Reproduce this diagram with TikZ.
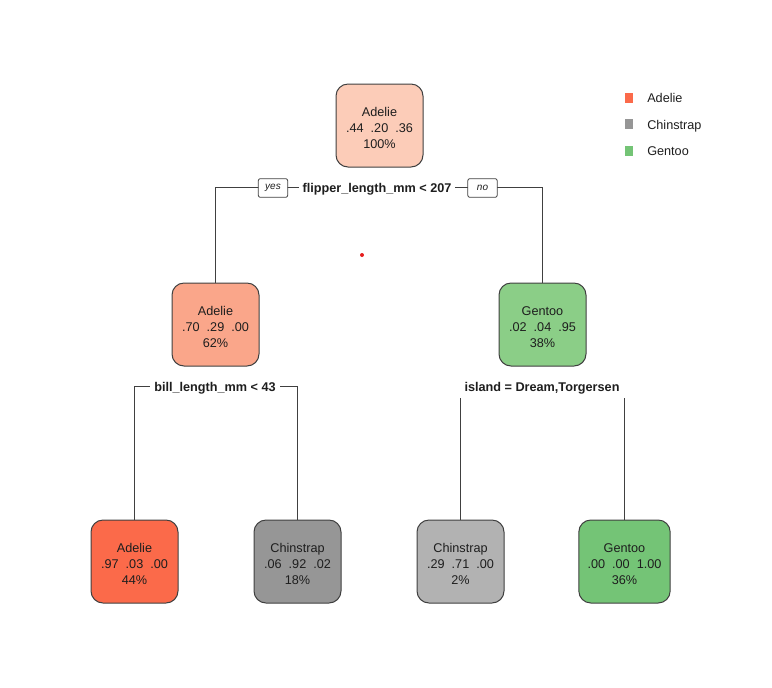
\documentclass[tikz,border=0pt]{standalone}
\usepackage{fontspec}
\setmainfont{Liberation Sans}
\definecolor{edgegray}{RGB}{64,64,64}
\definecolor{txt}{RGB}{30,30,30}
\definecolor{rootfill}{RGB}{252,204,184}
\definecolor{adeliemid}{RGB}{250,166,138}
\definecolor{adeliefull}{RGB}{251,106,74}
\definecolor{chinfull}{RGB}{150,150,150}
\definecolor{chinlight}{RGB}{178,178,178}
\definecolor{gentoomid}{RGB}{139,206,135}
\definecolor{gentoofull}{RGB}{116,196,118}
\definecolor{dotred}{RGB}{230,30,30}
% first line strut pushes the three-line block slightly down in its box
\newcommand{\topstrut}{\rule{0pt}{10pt}}
\begin{document}
\begin{tikzpicture}[x=0.75pt,y=-0.75pt,
  leaf/.style={draw=edgegray, line width=0.75pt, rounded corners=9pt,
    minimum width=65.25pt, minimum height=62.25pt, align=center,
    font=\fontsize{9.5}{12}\selectfont, text=txt, inner sep=0pt},
  split/.style={fill=white, font=\bfseries\fontsize{9.5}{12}\selectfont,
    text=txt, inner sep=3pt},
  tag/.style={draw=edgegray, fill=white, line width=0.6pt, rounded corners=1.5pt,
    font=\itshape\fontsize{7.5}{9}\selectfont, text=txt,
    minimum width=22pt, minimum height=14pt, inner sep=1pt},
  wire/.style={draw=edgegray, line width=0.75pt},
  key/.style={minimum width=6.5pt, minimum height=7.5pt, inner sep=0pt},
  keylabel/.style={anchor=base west, font=\fontsize{9.5}{12}\selectfont, text=txt, inner sep=0pt}]
\useasboundingbox (0,0) rectangle (772,687);

% tree nodes
\node[leaf, fill=rootfill]   (n1) at (379.5,125.5) {\topstrut Adelie\\.44~~.20~~.36\\100\%};
\node[leaf, fill=adeliemid]  (n2) at (215.5,324.5) {\topstrut Adelie\\.70~~.29~~.00\\62\%};
\node[leaf, fill=gentoomid]  (n3) at (542.5,324.5) {\topstrut Gentoo\\.02~~.04~~.95\\38\%};
\node[leaf, fill=adeliefull] (n4) at (134.5,561.5) {\topstrut Adelie\\.97~~.03~~.00\\44\%};
\node[leaf, fill=chinfull]   (n5) at (297.5,561.5) {\topstrut Chinstrap\\.06~~.92~~.02\\18\%};
\node[leaf, fill=chinlight]  (n6) at (460.5,561.5) {\topstrut Chinstrap\\.29~~.71~~.00\\2\%};
\node[leaf, fill=gentoofull, minimum width=68.5pt] (n7) at (624.5,561.5) {\topstrut Gentoo\\.00~~.00~~1.00\\36\%};

% first split: flipper length
\coordinate (s1a) at (215.5,187.5);
\coordinate (s1b) at (542.5,187.5);
\draw[wire] (n2.north) -- (s1a) -- (s1b) -- (n3.north);
\node[split] (l1) at (377,189) {flipper\_length\_mm < 207};
\node[tag] (yes) at (273,188) {yes};
\node[tag] (no) at (482.5,188) {no};

% second split: bill length
\coordinate (s2a) at (134.5,386.5);
\coordinate (s2b) at (297.5,386.5);
\draw[wire] (n4.north) -- (s2a) -- (s2b) -- (n5.north);
\node[split] (l2) at (215,388) {bill\_length\_mm < 43};

% third split: island
\coordinate (s3a) at (460.5,398);
\coordinate (s3b) at (624.5,398);
\draw[wire] (s3a) -- (n6.north);
\draw[wire] (s3b) -- (n7.north);
\node[split] (l3) at (542,388) {island = Dream,Torgersen};

% stray marker
\node[circle, fill=dotred, minimum size=3pt, inner sep=0pt] (dot) at (362,255) {};

% legend
\node[key, fill=adeliefull] (k1) at (629,97.5) {};
\node[key, fill=chinfull]   (k2) at (629,124) {};
\node[key, fill=gentoofull] (k3) at (629,151) {};
\node[keylabel] (t1) at (647,102.5) {Adelie};
\node[keylabel] (t2) at (647,129) {Chinstrap};
\node[keylabel] (t3) at (647,155.5) {Gentoo};
\end{tikzpicture}
\end{document}
